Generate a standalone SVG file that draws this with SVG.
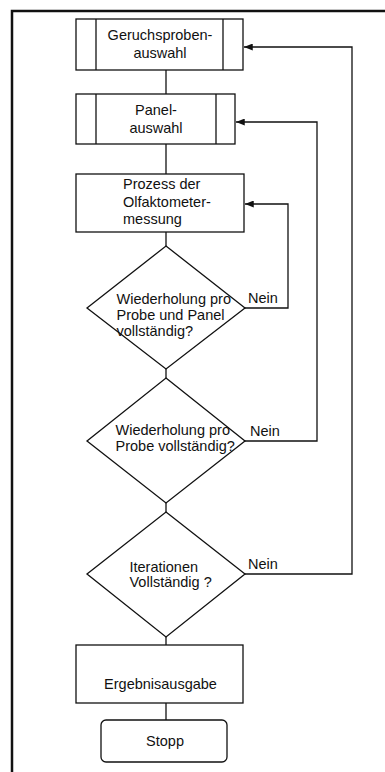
<svg xmlns="http://www.w3.org/2000/svg" width="385" height="772" viewBox="0 0 385 772">
  <style>
    .shape { fill: #fff; stroke: #111; stroke-width: 1.3; }
    .line { fill: none; stroke: #111; stroke-width: 1.3; }
    .frame { fill: none; stroke: #111; stroke-width: 2.5; }
    text { font-family: "Liberation Sans", Arial, sans-serif; font-size: 14.5px; fill: #111; }
    .c { text-anchor: middle; }
  </style>
  <defs>
    <marker id="arrow" viewBox="0 0 10 8" refX="10" refY="4" markerWidth="9" markerHeight="7" markerUnits="userSpaceOnUse" orient="auto">
      <path d="M0,0 L10,4 L0,8 Z" fill="#111"/>
    </marker>
  </defs>

  <rect width="385" height="772" fill="#fff"/>
  <!-- page frame -->
  <polyline class="frame" points="12,772 12,11 385,11"/>

  <g id="connectors">
    <line class="line" x1="166" y1="70" x2="166" y2="94"/>
    <line class="line" x1="166" y1="144" x2="166" y2="174"/>
    <line class="line" x1="166" y1="232" x2="166" y2="246"/>
    <line class="line" x1="166" y1="369" x2="166" y2="378"/>
    <line class="line" x1="166" y1="503" x2="166" y2="512"/>
    <line class="line" x1="166" y1="637" x2="166" y2="645"/>
    <line class="line" x1="166" y1="703" x2="166" y2="720"/>
    <!-- return loops -->
    <polyline class="line" points="245,308 288,308 288,204 245,204" marker-end="url(#arrow)"/>
    <polyline class="line" points="245,441 317,441 317,122 236,122" marker-end="url(#arrow)"/>
    <polyline class="line" points="245,574 352,574 352,47 244,47" marker-end="url(#arrow)"/>
    <text x="248" y="303">Nein</text>
    <text x="250" y="436">Nein</text>
    <text x="248" y="569">Nein</text>
  </g>

  <g id="geruchsprobenauswahl">
    <rect class="shape" x="76" y="19" width="167" height="51"/>
    <line class="line" x1="96" y1="19" x2="96" y2="70"/>
    <line class="line" x1="223" y1="19" x2="223" y2="70"/>
    <text class="c" x="160" y="40">Geruchsproben-</text>
    <text class="c" x="160" y="58">auswahl</text>
  </g>

  <g id="panelauswahl">
    <rect class="shape" x="76" y="94" width="159" height="50"/>
    <line class="line" x1="96" y1="94" x2="96" y2="144"/>
    <line class="line" x1="216" y1="94" x2="216" y2="144"/>
    <text class="c" x="156" y="115">Panel-</text>
    <text class="c" x="156" y="133">auswahl</text>
  </g>

  <g id="olfaktometermessung">
    <rect class="shape" x="76" y="174" width="168" height="58"/>
    <text x="123" y="189">Prozess der</text>
    <text x="123" y="207">Olfaktometer-</text>
    <text x="123" y="224">messung</text>
  </g>

  <g id="wiederholung-probe-panel">
    <polygon class="shape" points="166,246 245,308 166,369 87,308"/>
    <text x="116.5" y="304">Wiederholung pro</text>
    <text x="116.5" y="320">Probe und Panel</text>
    <text x="116.5" y="336">vollständig?</text>
  </g>

  <g id="wiederholung-probe">
    <polygon class="shape" points="166,378 245,441 166,503 87,441"/>
    <text x="115.5" y="435">Wiederholung pro</text>
    <text x="115.5" y="451">Probe vollständig?</text>
  </g>

  <g id="iterationen">
    <polygon class="shape" points="166,512 245,574 166,637 87,574"/>
    <text x="129.5" y="572">Iterationen</text>
    <text x="129.5" y="587">Vollständig ?</text>
  </g>

  <g id="ergebnisausgabe">
    <rect class="shape" x="76" y="645" width="167" height="58"/>
    <text class="c" x="160.5" y="689">Ergebnisausgabe</text>
  </g>

  <g id="stopp">
    <rect class="shape" x="101" y="720" width="126" height="42" rx="5"/>
    <text class="c" x="165" y="746">Stopp</text>
  </g>
</svg>
